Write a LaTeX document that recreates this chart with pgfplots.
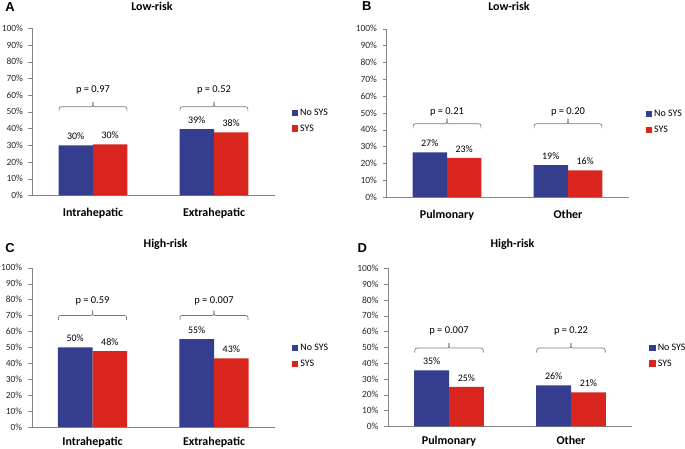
\documentclass[border=0pt]{standalone}
\usepackage{pgfplots}
\pgfplotsset{compat=1.18}
\usepackage{fontspec}
\setmainfont{Carlito}
\newfontfamily\arialfont{Liberation Sans}

\definecolor{nosys}{RGB}{53,61,142}
\definecolor{sys}{RGB}{218,37,31}
\definecolor{axisgray}{RGB}{134,134,134}
\definecolor{bracegray}{RGB}{120,120,120}

% bracket over one category: left x, centre x, right x, end y, line y, stub y, text y, text
\newcommand{\pbracket}[8]{%
  \draw[bracegray, line width=0.7bp, rounded corners=2bp]
    (axis cs:#1,#4) |- (axis cs:#2,#5) -- (axis cs:#2,#6);
  \draw[bracegray, line width=0.7bp, rounded corners=2bp]
    (axis cs:#2,#6) -- (axis cs:#2,#5) -| (axis cs:#3,#4);
  \node[font=\fontsize{10.5}{12}\selectfont] at (axis cs:#2,#7) {#8};
}

\pgfplotsset{
  panel/.style={
    scale only axis, width=242bp, anchor=south west,
    ybar=0pt, bar width=0.285,
    xmin=-0.5, xmax=1.5, ymin=0, ymax=100,
    xtick={0,1},
    ytick={0,10,...,100},
    yticklabel={\pgfmathprintnumber{\tick}\%},
    /pgf/number format/assume math mode=true,
    axis x line*=bottom, axis y line*=left,
    axis line style={axisgray,-},
    major x tick style={draw=none},
    major y tick style={axisgray},
    tick align=outside, major tick length=4bp,
    yticklabel style={font=\fontsize{9.5}{11}\selectfont, text=black!85, xshift=-2bp},
    xticklabel style={font=\fontsize{12}{14}\selectfont\bfseries, inner sep=1bp, yshift=-8bp},
    point meta=explicit,
    nodes near coords={\pgfmathprintnumber{\pgfplotspointmeta}\%},
    nodes near coords style={font=\fontsize{10}{12}\selectfont, text=black, anchor=south, yshift=2bp},
    legend style={at={(1.07,0.445)}, anchor=west, draw=none, fill=none, inner sep=0pt,
      font=\fontsize{10}{12}\selectfont, row sep=4bp},
    legend cell align=left,
    legend image code/.code={\fill[##1] (0bp,-3bp) rectangle (6.5bp,3.5bp);},
    clip=false,
  },
}

\begin{document}
\begin{tikzpicture}
\useasboundingbox (0,0) rectangle (685bp,-449bp);

% A
\begin{axis}[panel, at={(32.5bp,-195.3bp)}, height=167bp,
  xticklabels={Intrahepatic,Extrahepatic}]
  \addplot[fill=nosys, draw=none] coordinates {(0,29.9)[30] (1,39.7)[39]};
  \addplot[fill=sys, draw=none] coordinates {(0,30.5)[30] (1,37.7)[38]};
  \legend{No SYS, SYS}
  \pbracket{-0.28}{0}{0.28}{50.3}{53}{56}{63}{p = 0.97}
  \pbracket{0.72}{1}{1.28}{50.3}{53}{56}{63}{p = 0.52}
\end{axis}

% B
\begin{axis}[panel, at={(386.5bp,-197bp)}, height=168.3bp,
  xticklabels={Pulmonary,Other}]
  \addplot[fill=nosys, draw=none] coordinates {(0,26.5)[27] (1,19.0)[19]};
  \addplot[fill=sys, draw=none] coordinates {(0,23.2)[23] (1,15.8)[16]};
  \legend{No SYS, SYS}
  \pbracket{-0.28}{0}{0.28}{40.8}{43.5}{46.5}{50.5}{p = 0.21}
  \pbracket{0.72}{1}{1.28}{40.8}{43.5}{46.5}{50.5}{p = 0.20}
\end{axis}

% C
\begin{axis}[panel, at={(31.75bp,-427bp)}, height=159.3bp, width=243bp,
  xticklabels={Intrahepatic,Extrahepatic},
  xticklabel style={yshift=3bp}]
  \addplot[fill=nosys, draw=none] coordinates {(0,50.0)[50] (1,55.2)[55]};
  \addplot[fill=sys, draw=none] coordinates {(0,47.7)[48] (1,43.1)[43]};
  \legend{No SYS, SYS}
  \pbracket{-0.28}{0}{0.28}{67.2}{70}{73.1}{79}{p = 0.59}
  \pbracket{0.72}{1}{1.28}{67.2}{70}{73.1}{79}{p = 0.007}
\end{axis}

% D
\begin{axis}[panel, at={(388bp,-426.3bp)}, height=158bp, width=244bp,
  xticklabels={Pulmonary,Other},
  xticklabel style={yshift=3bp}]
  \addplot[fill=nosys, draw=none] coordinates {(0,35.4)[35] (1,25.9)[26]};
  \addplot[fill=sys, draw=none] coordinates {(0,24.9)[25] (1,21.5)[21]};
  \legend{No SYS, SYS}
  \pbracket{-0.28}{0}{0.28}{46.7}{49.5}{52.6}{60.5}{p = 0.007}
  \pbracket{0.72}{1}{1.28}{46.7}{49.5}{52.6}{60.5}{p = 0.22}
\end{axis}

% titles and panel letters
\node[font=\fontsize{12}{14}\selectfont\bfseries] at (152bp,-6bp) {Low-risk};
\node[font=\fontsize{12}{14}\selectfont\bfseries] at (509bp,-6bp) {Low-risk};
\node[font=\fontsize{12}{14}\selectfont\bfseries] at (165.7bp,-244bp) {High-risk};
\node[font=\fontsize{12}{14}\selectfont\bfseries] at (512.5bp,-244bp) {High-risk};
\node[font=\arialfont\bfseries\fontsize{13}{15}\selectfont] at (10bp,-7bp) {A};
\node[font=\arialfont\bfseries\fontsize{13}{15}\selectfont] at (366.7bp,-6bp) {B};
\node[font=\arialfont\bfseries\fontsize{13}{15}\selectfont] at (10bp,-247.7bp) {C};
\node[font=\arialfont\bfseries\fontsize{13}{15}\selectfont] at (362.3bp,-247.7bp) {D};
\end{tikzpicture}
\end{document}
